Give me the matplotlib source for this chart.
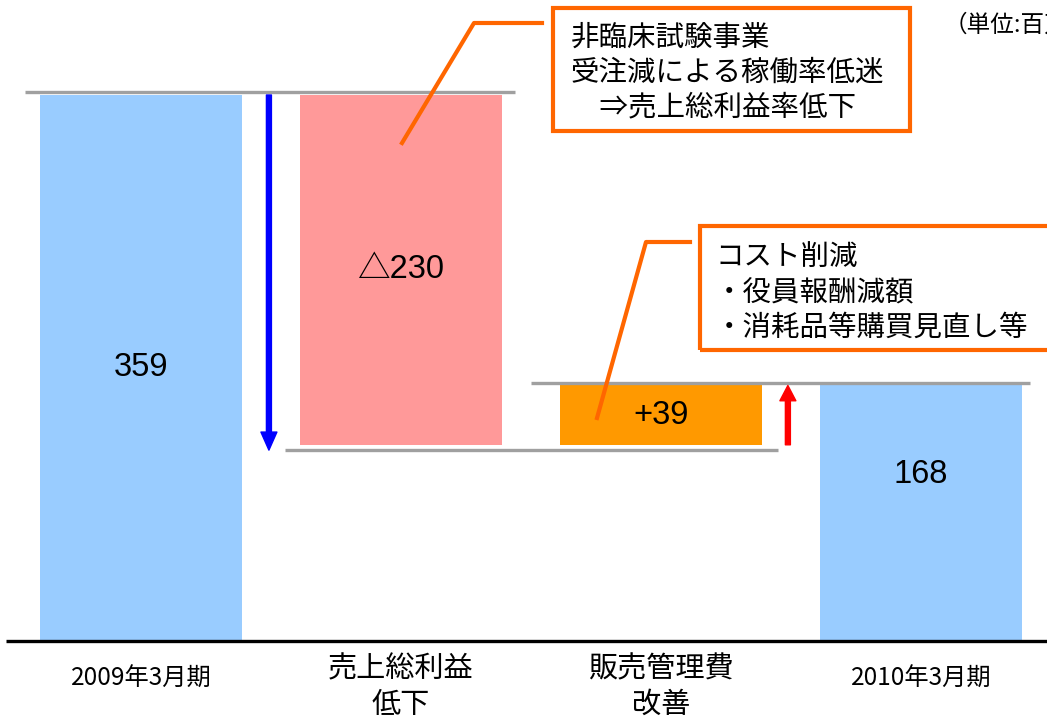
import matplotlib
matplotlib.use('Agg')
import matplotlib.pyplot as plt
from matplotlib.patches import Rectangle, FancyArrowPatch

# data
categories = ['2009年3月期', '売上総利益\n低下', '販売管理費\n改善', '2010年3月期']
values = [359, -230, 39, 168]
value_labels = ['359', '△230', '+39', '168']
bar_colors = ['#99CCFF', '#FF9999', '#FF9900', '#99CCFF']
unit_label = '（単位:百万円）'
note1 = ['非臨床試験事業', '受注減による稼働率低迷', '　⇒売上総利益率低下']
note2 = ['コスト削減', '・役員報酬減額', '・消耗品等購買見直し等']

JP = ['Noto Sans CJK JP', 'DejaVu Sans']
NUM = ['Liberation Sans', 'Noto Sans CJK JP']

W, H = 1047, 723
fig = plt.figure(figsize=(W / 100, H / 100), dpi=100)
ax = fig.add_axes([0, 0, 1, 1])
ax.axis('off')

# pixel layout of the original: bar pitch 260px, first centre 141px, baseline 641px
pitch, x0, base = 260.0, 141.0, 641.0
ppu = (base - 95) / values[0]          # pixels per value unit
ax.set_xlim(-x0 / pitch, (W - x0) / pitch)
ax.set_ylim(-(H - base) / ppu, base / ppu)

# waterfall bottoms / heights
bottoms, heights = [], []
total = 0
for i, v in enumerate(values):
    if i == 0 or i == len(values) - 1:
        bottoms.append(0)
        heights.append(abs(v))
        total = v
    else:
        new = total + v
        bottoms.append(min(total, new))
        heights.append(abs(v))
        total = new

xs = list(range(len(values)))
bw = 202 / pitch
ax.bar(xs, heights, bottom=bottoms, width=bw, color=bar_colors, zorder=2)

# base line
ax.plot([-0.52, 3.6], [0, 0], color='black', lw=2.4, solid_capstyle='butt', zorder=3)

# grey connector lines
gc = '#a0a0a0'
top0 = bottoms[0] + heights[0]
low1 = bottoms[1]
top2 = bottoms[2] + heights[2]
ax.plot([xs[0] - bw / 2 - 0.058, xs[1] + bw / 2 + 0.05], [top0 + 2, top0 + 2],
        color=gc, lw=2.4, solid_capstyle='butt', zorder=3)
ax.plot([xs[1] - bw / 2 - 0.058, xs[2] + bw / 2 + 0.062], [low1 - 3.3, low1 - 3.3],
        color=gc, lw=2.4, solid_capstyle='butt', zorder=3)
ax.plot([xs[2] - bw / 2 - 0.112, xs[3] + bw / 2 + 0.03], [top2 + 1.5, top2 + 1.5],
        color=gc, lw=2.4, solid_capstyle='butt', zorder=3)

# arrows
blue = FancyArrowPatch((0.492, top0), (0.492, low1 - 3.5),
                       arrowstyle='simple,head_length=1.3,head_width=1.15,tail_width=0.36',
                       mutation_scale=10, color='#0000FF', shrinkA=0, shrinkB=0, zorder=4)
ax.add_patch(blue)
red = FancyArrowPatch((2.488, low1), (2.488, top2),
                      arrowstyle='simple,head_length=1.1,head_width=1.15,tail_width=0.36',
                      mutation_scale=10, color='#FF0000', shrinkA=0, shrinkB=0, zorder=4)
ax.add_patch(red)

# value labels
label_frac = [0.5, 0.5, 0.5, 0.65]
for x, b, h, lab, f in zip(xs, bottoms, heights, value_labels, label_frac):
    ax.text(x, b + h * f, lab, ha='center', va='center', fontsize=23.5,
            family=NUM, zorder=5)

# category labels
for x, cat in zip(xs, categories):
    lines = cat.split('\n')
    if len(lines) == 1:
        ax.text(x, -(679 - base) / ppu, cat, ha='center', va='center',
                fontsize=17.5, family=JP)
    else:
        for j, ln in enumerate(lines):
            ax.text(x, -(669 + 36 * j - base) / ppu, ln, ha='center', va='center',
                    fontsize=21, family=JP)


# annotation boxes (figure pixel layout, origin top-left)
def fx(px):
    return px / W


def fy(py):
    return 1 - py / H


orange = '#FF6600'
ax.add_patch(Rectangle((fx(553), fy(131)), fx(910) - fx(553), (131 - 8) / H,
                       transform=ax.transAxes, fill=False, ec=orange, lw=3, zorder=6))
ax.add_patch(Rectangle((fx(700), fy(350)), fx(1080) - fx(700), (350 - 226) / H,
                       transform=ax.transAxes, fill=False, ec=orange, lw=3, zorder=6,
                       clip_on=False))
ax.plot([fx(542), fx(474), fx(402)], [fy(23), fy(23), fy(143)], color=orange, lw=3,
        transform=ax.transAxes, zorder=6)
ax.plot([fx(690), fx(646), fx(597)], [fy(242), fy(242), fy(418)], color=orange, lw=3,
        transform=ax.transAxes, zorder=6)

for j, ln in enumerate(note1):
    ax.text(fx(571), fy(38 + 34.5 * j), ln, ha='left', va='center', fontsize=20.5,
            family=JP, transform=ax.transAxes, zorder=7)
for j, ln in enumerate(note2):
    ax.text(fx(715), fy(257 + 35.5 * j), ln, ha='left', va='center', fontsize=20.5,
            family=JP, transform=ax.transAxes, zorder=7)

ax.text(fx(944), fy(25), unit_label, ha='left', va='center', fontsize=17,
        family=JP, transform=ax.transAxes)

fig.savefig('out.png', dpi=100)
